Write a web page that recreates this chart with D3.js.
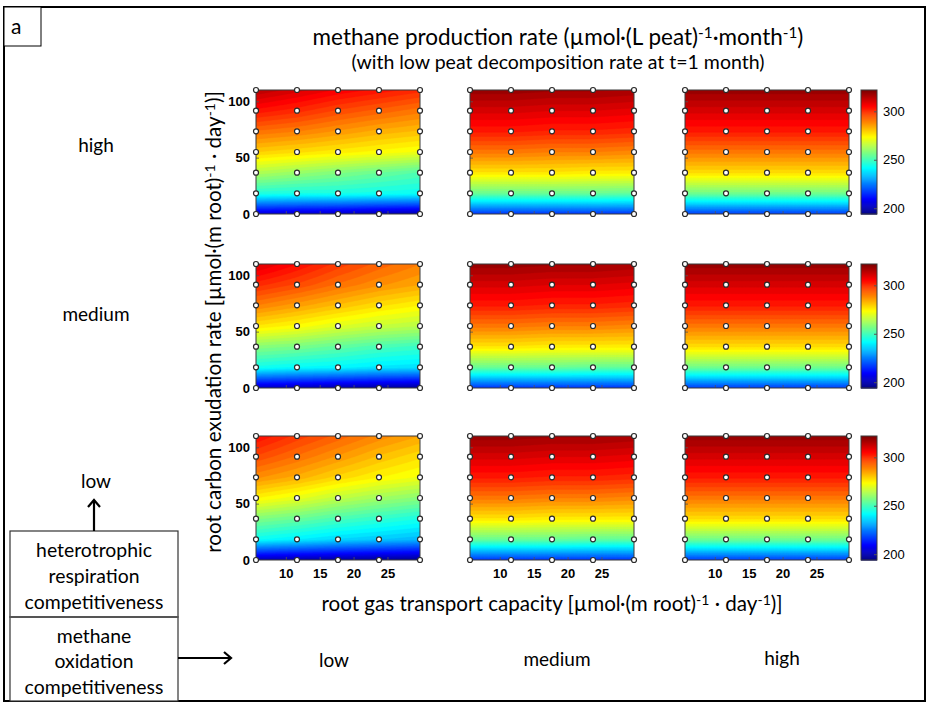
<!DOCTYPE html>
<html>
<head>
<meta charset="utf-8">
<script src="https://cdn.jsdelivr.net/npm/d3@7"></script>
<style>
  body { margin: 0; background: #fff; }
  text { fill: #000; }
</style>
</head>
<body>
<svg id="chart" width="930" height="704"></svg>
<script>
// Model grid: root gas transport capacity (x) and root carbon exudation rate (y)
const gasTransport = [5.6, 11.65, 17.7, 23.75, 29.8];
const exudation = [0, 18.33, 36.67, 55, 73.33, 91.67, 110];
const xTickValues = [10, 15, 20, 25];
const yTickValues = [0, 50, 100];
const colorTickValues = [200, 250, 300];
const colorRange = [194, 322];
const heteroLevels = ["high", "medium", "low"];      // panel rows
const oxidationLevels = ["low", "medium", "high"];   // panel columns

// Methane production rate; each row is one exudation level (bottom to top),
// each column one gas transport level (left to right).
const rateHighLow = [
  [204, 203, 202, 200, 199],
  [246, 245, 245, 244, 243],
  [264, 261, 258, 255, 252],
  [280, 278, 276, 274, 272],
  [292, 290, 287, 284, 282],
  [304, 301, 297, 294, 291],
  [315, 311, 307, 304, 301]
];
const rateHighMedium = [
  [216, 216, 216, 216, 216],
  [255, 255, 255, 255, 254],
  [277, 277, 277, 276, 276],
  [291, 291, 290, 290, 289],
  [303, 303, 302, 302, 301],
  [311, 311, 310, 310, 309],
  [319, 319, 318, 318, 317]
];
const rateHighHigh = [
  [217, 217, 217, 217, 217],
  [256, 256, 256, 256, 256],
  [278, 278, 278, 278, 278],
  [291, 291, 291, 291, 291],
  [303, 303, 303, 303, 303],
  [311, 311, 311, 311, 311],
  [319, 319, 319, 319, 319]
];
const rateMediumLow = [
  [202, 201, 199, 198, 197],
  [244, 242, 241, 239, 238],
  [259, 257, 254, 251, 249],
  [277, 274, 270, 267, 265],
  [290, 286, 282, 278, 275],
  [301, 297, 292, 288, 285],
  [311, 305, 299, 294, 290]
];
const rateMediumMedium = [
  [216, 216, 216, 216, 216],
  [255, 255, 255, 254, 254],
  [277, 277, 276, 276, 276],
  [291, 291, 290, 290, 289],
  [303, 303, 302, 302, 301],
  [311, 311, 310, 310, 309],
  [319, 319, 318, 318, 317]
];
const rateMediumHigh = [
  [217, 217, 217, 217, 217],
  [256, 256, 256, 256, 256],
  [278, 278, 278, 278, 278],
  [291, 291, 291, 291, 291],
  [303, 303, 303, 303, 303],
  [311, 311, 311, 311, 311],
  [319, 319, 319, 319, 319]
];
const rateLowLow = [
  [200, 199, 198, 197, 196],
  [243, 240, 237, 235, 233],
  [258, 255, 251, 248, 245],
  [275, 271, 266, 262, 259],
  [288, 284, 279, 275, 272],
  [297, 292, 287, 282, 278],
  [305, 299, 294, 289, 285]
];
const rateLowMedium = [
  [216, 216, 216, 216, 216],
  [255, 255, 255, 254, 254],
  [277, 277, 276, 276, 276],
  [291, 291, 290, 290, 289],
  [303, 303, 302, 302, 301],
  [311, 311, 310, 310, 309],
  [319, 319, 318, 318, 317]
];
const rateLowHigh = [
  [217, 217, 217, 217, 217],
  [256, 256, 256, 256, 256],
  [278, 278, 278, 278, 278],
  [291, 291, 291, 291, 291],
  [303, 303, 303, 303, 303],
  [311, 311, 311, 311, 311],
  [319, 319, 319, 319, 319]
];

const panels = [
  [rateHighLow, rateHighMedium, rateHighHigh],
  [rateMediumLow, rateMediumMedium, rateMediumHigh],
  [rateLowLow, rateLowMedium, rateLowHigh]
];

// ---- layout ----
const textFont = "Lato, 'Open Sans', sans-serif";
const tickFont = "'Liberation Sans', Arial, sans-serif";
const colX = [256, 470, 685];
const rowY = [90, 264, 436];
const panelW = 164, panelH = 124;
const cbX = 861, cbW = 16;

const svg = d3.select("#chart");

// MATLAB-style jet colormap
function jet(t) {
  const c = v => Math.max(0, Math.min(1, v));
  const r = c(1.5 - Math.abs(4 * t - 3));
  const g = c(1.5 - Math.abs(4 * t - 2));
  const b = c(1.5 - Math.abs(4 * t - 1));
  return d3.rgb(r * 255, g * 255, b * 255).toString();
}
const colorT = d3.scaleLinear().domain(colorRange).range([0, 1]).clamp(true);
const color = v => jet(colorT(v));

// text with superscript parts; the tspan after a superscript drops back to the baseline
function richText(sel, parts) {
  let raised = false;
  parts.forEach(p => {
    if (p.sup) {
      sel.append("tspan").attr("font-size", "0.68em").attr("dy", "-0.45em").text(p.sup);
      raised = true;
    } else {
      const ts = sel.append("tspan").text(p.t);
      if (raised) { ts.attr("dy", "0.306em"); raised = false; }
    }
  });
  return sel;
}

// outer frame and panel letter
svg.append("rect").attr("x", 4).attr("y", 7).attr("width", 921).attr("height", 694)
  .attr("fill", "none").attr("stroke", "#000").attr("stroke-width", 2);
svg.append("rect").attr("x", 4).attr("y", 7).attr("width", 37).attr("height", 39)
  .attr("fill", "#fff").attr("stroke", "#000").attr("stroke-width", 1);
svg.append("text").attr("x", 11).attr("y", 34).attr("font-family", textFont)
  .attr("font-size", 21).text("a");

// titles
richText(svg.append("text").attr("x", 558).attr("y", 45).attr("text-anchor", "middle")
  .attr("font-family", textFont).attr("font-size", 22.5),
  [{t: "methane production rate (\u00B5mol\u00B7(L peat)"}, {sup: "-1"}, {t: "\u00B7month"}, {sup: "-1"}, {t: ")"}]);
svg.append("text").attr("x", 558).attr("y", 69).attr("text-anchor", "middle")
  .attr("font-family", textFont).attr("font-size", 19.5)
  .text("(with low peat decomposition rate at t=1 month)");

// fine grid for filled contours (bilinear between model runs)
const nx = 121, ny = 111;
const xDom = [gasTransport[0], gasTransport[gasTransport.length - 1]];
const yDom = [exudation[0], exudation[exudation.length - 1]];
function locate(arr, v) {
  let k = 0;
  while (k < arr.length - 2 && v > arr[k + 1]) k++;
  return [k, (v - arr[k]) / (arr[k + 1] - arr[k])];
}
function fineField(grid) {
  const vals = new Float64Array(nx * ny);
  for (let j = 0; j < ny; j++) {
    const yv = yDom[0] + j / (ny - 1) * (yDom[1] - yDom[0]);
    const [yk, fy] = locate(exudation, yv);
    for (let i = 0; i < nx; i++) {
      const xv = xDom[0] + i / (nx - 1) * (xDom[1] - xDom[0]);
      const [xk, fx] = locate(gasTransport, xv);
      const a = grid[yk][xk], b = grid[yk][xk + 1];
      const c = grid[yk + 1][xk], d = grid[yk + 1][xk + 1];
      vals[j * nx + i] = (a * (1 - fx) + b * fx) * (1 - fy) + (c * (1 - fx) + d * fx) * fy;
    }
  }
  return vals;
}
const step = 2.5;
const thresholds = d3.range(180, 326, step);

const defs = svg.append("defs");

panels.forEach((row, r) => {
  row.forEach((grid, c) => {
    const x0 = colX[c], y0 = rowY[r];
    const xs = d3.scaleLinear().domain(xDom).range([x0, x0 + panelW]);
    const ys = d3.scaleLinear().domain(yDom).range([y0 + panelH, y0]);
    const clipId = `clip-${r}-${c}`;
    defs.append("clipPath").attr("id", clipId).append("rect")
      .attr("x", x0).attr("y", y0).attr("width", panelW).attr("height", panelH);

    const g = svg.append("g");
    const field = fineField(grid);
    const contours = d3.contours().size([nx, ny]).thresholds(thresholds)(field);
    const proj = d3.geoTransform({
      point: function (gx, gy) {
        const xv = xDom[0] + (gx - 0.5) / (nx - 1) * (xDom[1] - xDom[0]);
        const yv = yDom[0] + (gy - 0.5) / (ny - 1) * (yDom[1] - yDom[0]);
        this.stream.point(xs(xv), ys(yv));
      }
    });
    const path = d3.geoPath(proj);
    g.append("g").attr("clip-path", `url(#${clipId})`)
      .selectAll("path").data(contours).join("path")
      .attr("d", path)
      .attr("fill", d => color(Math.max(d.value, colorRange[0]) + step / 2))
      .attr("stroke", d => color(Math.max(d.value, colorRange[0]) + step / 2))
      .attr("stroke-width", 0.4);

    // axes with inward ticks
    const yAxis = d3.axisLeft(ys).tickValues(yTickValues).tickSize(-3).tickPadding(6);
    if (c !== 0) yAxis.tickFormat("");
    const ya = g.append("g").attr("transform", `translate(${x0},0)`).call(yAxis);
    const xAxis = d3.axisBottom(xs).tickValues(xTickValues).tickSize(-3).tickPadding(9);
    if (r !== 2) xAxis.tickFormat("");
    const xa = g.append("g").attr("transform", `translate(0,${y0 + panelH})`).call(xAxis);
    [ya, xa].forEach(a => {
      a.select(".domain").remove();
      a.selectAll("line").attr("stroke", "#555").attr("stroke-width", 0.8);
      a.selectAll("text").attr("font-family", tickFont).attr("font-size", 13)
        .attr("font-weight", "bold").attr("fill", "#262626");
    });

    g.append("rect").attr("x", x0).attr("y", y0).attr("width", panelW).attr("height", panelH)
      .attr("fill", "none").attr("stroke", "#3a3a3a").attr("stroke-width", 1);

    // model run locations
    const pts = [];
    exudation.forEach(yv => gasTransport.forEach(xv => pts.push([xv, yv])));
    g.selectAll("circle").data(pts).join("circle")
      .attr("cx", d => xs(d[0])).attr("cy", d => ys(d[1])).attr("r", 2.5)
      .attr("fill", "#fff").attr("stroke", "#2a2a2a").attr("stroke-width", 1.2);
  });

  // colorbar for the row
  const y0 = rowY[r];
  const cs = d3.scaleLinear().domain(colorRange).range([y0 + panelH, y0]);
  const cb = svg.append("g");
  cb.selectAll("rect").data(d3.range(colorRange[0], colorRange[1], 1)).join("rect")
    .attr("x", cbX).attr("width", cbW)
    .attr("y", d => cs(d + 1)).attr("height", d => cs(d) - cs(d + 1) + 0.6)
    .attr("fill", d => color(d + 0.5));
  cb.append("rect").attr("x", cbX).attr("y", y0).attr("width", cbW).attr("height", panelH)
    .attr("fill", "none").attr("stroke", "#3a3a3a").attr("stroke-width", 1);
  const cAxis = d3.axisRight(cs).tickValues(colorTickValues).tickSize(-3).tickPadding(6);
  const ca = cb.append("g").attr("transform", `translate(${cbX + cbW},0)`).call(cAxis);
  ca.select(".domain").remove();
  ca.selectAll("line").attr("stroke", "#555");
  ca.selectAll("text").attr("font-family", tickFont).attr("font-size", 13)
    .attr("fill", "#262626");
});

// axis titles
richText(svg.append("text").attr("transform", "translate(221,322) rotate(-90)")
  .attr("text-anchor", "middle").attr("font-family", textFont).attr("font-size", 20.6),
  [{t: "root carbon exudation rate [\u00B5mol\u00B7(m root)"}, {sup: "-1"}, {t: " \u00B7 day"}, {sup: "-1"}, {t: ")]"}]);
richText(svg.append("text").attr("x", 552).attr("y", 611)
  .attr("text-anchor", "middle").attr("font-family", textFont).attr("font-size", 20.6),
  [{t: "root gas transport capacity [\u00B5mol\u00B7(m root)"}, {sup: "-1"}, {t: " \u00B7 day"}, {sup: "-1"}, {t: ")]"}]);

// row and column level labels
const rowLabelY = [146, 315, 482];
svg.selectAll(".rowlab").data(heteroLevels).join("text")
  .attr("x", 96).attr("y", (d, i) => rowLabelY[i] + 6).attr("text-anchor", "middle")
  .attr("font-family", textFont).attr("font-size", 19).text(d => d);
const colLabelX = [334, 557, 782];
const colLabelY = [661, 660, 659];
svg.selectAll(".collab").data(oxidationLevels).join("text")
  .attr("x", (d, i) => colLabelX[i]).attr("y", (d, i) => colLabelY[i] + 6).attr("text-anchor", "middle")
  .attr("font-family", textFont).attr("font-size", 19).text(d => d);

// factor boxes and arrows
svg.append("rect").attr("x", 10).attr("y", 531).attr("width", 168).attr("height", 86)
  .attr("fill", "#fff").attr("stroke", "#333").attr("stroke-width", 1.2);
svg.append("rect").attr("x", 10).attr("y", 617).attr("width", 168).attr("height", 84)
  .attr("fill", "#fff").attr("stroke", "#333").attr("stroke-width", 1.2);
svg.append("line").attr("x1", 10).attr("x2", 178).attr("y1", 617).attr("y2", 617)
  .attr("stroke", "#555").attr("stroke-width", 2.2);
const boxLines = [
  ["heterotrophic", 550], ["respiration", 576], ["competitiveness", 602],
  ["methane", 636], ["oxidation", 661], ["competitiveness", 687]
];
boxLines.forEach(([t, y]) => {
  svg.append("text").attr("x", 94).attr("y", y + 6.5).attr("text-anchor", "middle")
    .attr("font-family", textFont).attr("font-size", 19.4).text(t);
});
const arrow = svg.append("g").attr("fill", "none").attr("stroke", "#000").attr("stroke-width", 2.2);
arrow.append("path").attr("d", "M94,531 L94,500");
arrow.append("path").attr("d", "M88,507 L94,500 L100,507");
arrow.append("path").attr("d", "M178,658 L231,658");
arrow.append("path").attr("d", "M224,652 L231,658 L224,664");
</script>
</body>
</html>
